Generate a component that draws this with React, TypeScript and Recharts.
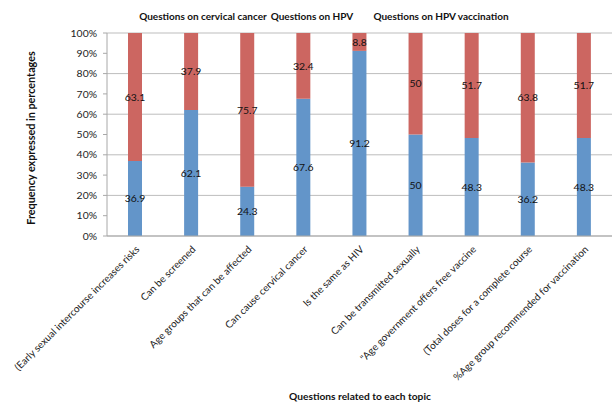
import { BarChart, Bar, XAxis, YAxis, CartesianGrid, LabelList } from 'recharts';

const questions = [
    '(Early sexual intercourse increases risks',
    'Can be screened',
    'Age groups that can be affected',
    'Can cause cervical cancer',
    'Is the same as HIV',
    'Can be transmitted sexually',
    '"Age government offers free vaccine',
    '(Total doses for a complete course',
    '%Age group recommended for vaccination',
];

const correct = [36.9, 62.1, 24.3, 67.6, 91.2, 50, 48.3, 36.2, 48.3];
const incorrect = [63.1, 37.9, 75.7, 32.4, 8.8, 50, 51.7, 63.8, 51.7];

const yTicks = [0, 10, 20, 30, 40, 50, 60, 70, 80, 90, 100];

const topics = [
    { label: 'Questions on cervical cancer', x: 203 },
    { label: 'Questions on HPV', x: 312 },
    { label: 'Questions on HPV vaccination', x: 441 },
];

const data = questions.map((q, i) => ({ name: q, a: correct[i], b: incorrect[i] }));

const FONT = 'Lato, "Open Sans", sans-serif';

const AngledTick = ({ x, y, payload }: any) => (
    <text
        x={x + 5}
        y={y + 6}
        textAnchor="end"
        fontSize={10}
        fontFamily={FONT}
        fill="#222"
        transform={`rotate(-45, ${x + 5}, ${y + 6})`}
    >
        {payload.value}
    </text>
);

export default function App() {
    return (
        <div style={{ position: 'absolute', left: 0, top: 0, width: 612, height: 409, background: '#fff', fontFamily: FONT }}>
            {topics.map((t) => (
                <div
                    key={t.label}
                    style={{ position: 'absolute', left: t.x, top: 10, transform: 'translateX(-50%)', whiteSpace: 'nowrap', fontSize: 10, fontWeight: 700, color: '#111' }}
                >
                    {t.label}
                </div>
            ))}
            <div
                style={{ position: 'absolute', left: 30, top: 138, transform: 'translate(-50%, -50%) rotate(-90deg)', whiteSpace: 'nowrap', fontSize: 10.8, fontWeight: 700, color: '#111' }}
            >
                Frequency expressed in percentages
            </div>
            <div
                style={{ position: 'absolute', left: 360, top: 390, transform: 'translateX(-50%)', whiteSpace: 'nowrap', fontSize: 10.2, fontWeight: 700, color: '#111' }}
            >
                Questions related to each topic
            </div>
            <BarChart width={612} height={409} data={data} margin={{ top: 33, right: 0, left: 0, bottom: 23 }} barSize={14}>
                <CartesianGrid vertical={false} stroke="#bdbdbd" />
                <XAxis dataKey="name" interval={0} tick={<AngledTick />} tickLine={false} axisLine={{ stroke: '#a8a8a8' }} height={150} />
                <YAxis
                    width={107}
                    domain={[0, 100]}
                    ticks={yTicks}
                    tickFormatter={(v) => `${v}%`}
                    tick={{ fontSize: 10.4, fill: '#222', fontFamily: FONT }}
                    tickLine={{ stroke: '#a8a8a8' }}
                    tickSize={4}
                    tickMargin={6}
                    axisLine={{ stroke: '#a8a8a8' }}
                />
                <Bar dataKey="a" stackId="s" fill="#6395c9" isAnimationActive={false}>
                    <LabelList dataKey="a" position="center" fontSize={10.4} fill="#111" fontFamily={FONT} />
                </Bar>
                <Bar dataKey="b" stackId="s" fill="#cc6661" isAnimationActive={false}>
                    <LabelList dataKey="b" position="center" fontSize={10.4} fill="#111" fontFamily={FONT} />
                </Bar>
            </BarChart>
        </div>
    );
}
